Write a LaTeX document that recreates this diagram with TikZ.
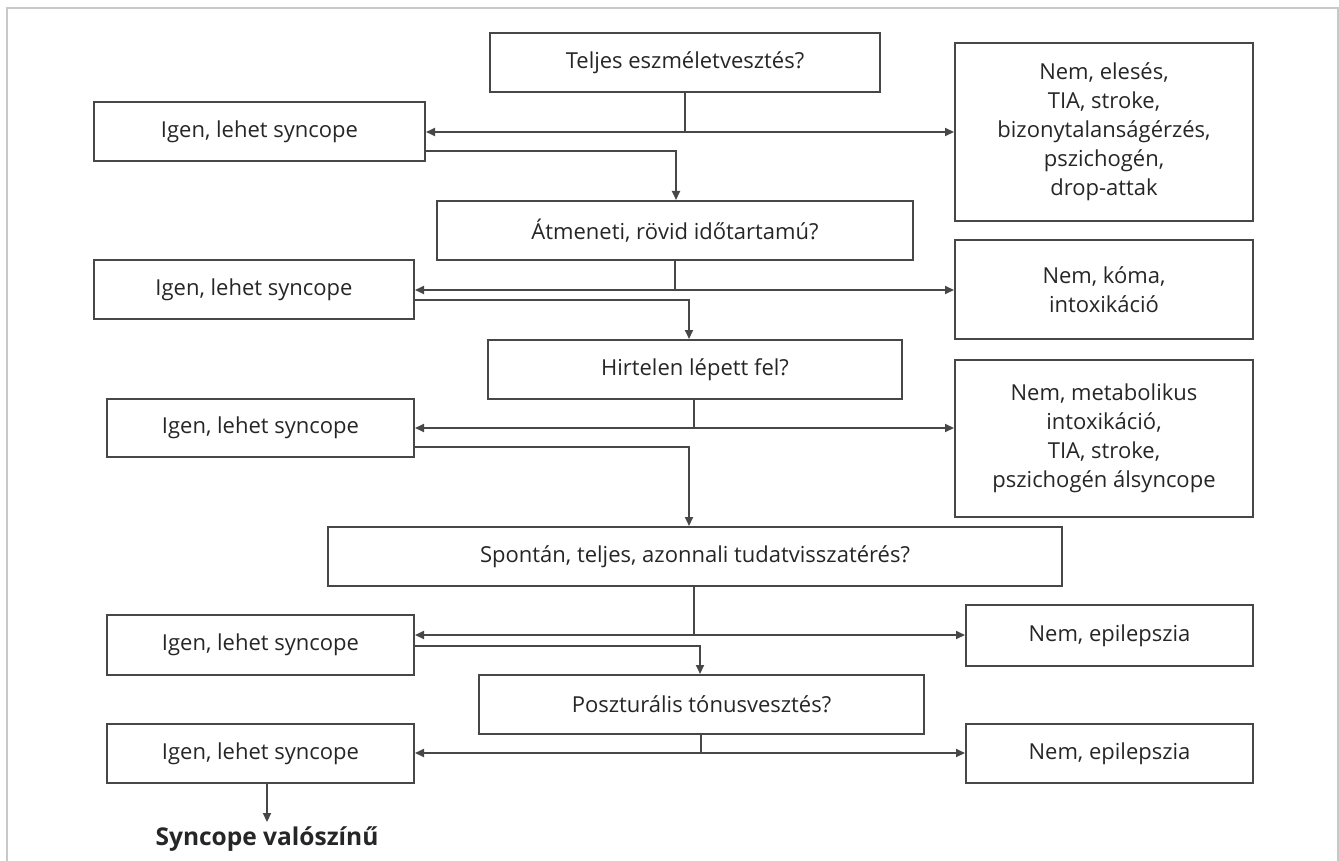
\documentclass[tikz,border=0pt]{standalone}
\usepackage{fontspec}
\setmainfont{Open Sans}[BoldFont={Open Sans Bold}]
\usetikzlibrary{arrows.meta}
\definecolor{linec}{HTML}{474747}
\definecolor{textc}{HTML}{262626}
\definecolor{framec}{HTML}{C8C8C8}
\begin{document}
\begin{tikzpicture}[x=1pt,y=-1pt,
  box/.style={draw=linec, line width=2pt, text=textc, align=center, inner sep=0pt,
              font=\fontsize{22}{29}\selectfont},
  arr/.style={draw=linec, line width=2pt, -{Triangle[length=9pt,width=8pt]}},
  ln/.style={draw=linec, line width=2pt}]
\useasboundingbox (0,0) rectangle (1339,861);
\draw[framec, line width=1.2pt] (7,861) -- (7,8) -- (1338,8) -- (1338,861);

% question boxes
\node[box, minimum width=390pt, minimum height=59pt] (q1) at (685,62.5) {Teljes eszméletvesztés?};
\node[box, minimum width=476pt, minimum height=59pt] (q2) at (675,230.5) {Átmeneti, rövid időtartamú?};
\node[box, minimum width=414pt, minimum height=59pt] (q3) at (695,369.5) {Hirtelen lépett fel?};
\node[box, minimum width=734pt, minimum height=59pt] (q4) at (695,556.5) {Spontán, teljes, azonnali tudatvisszatérés?};
\node[box, minimum width=445pt, minimum height=59pt] (q5) at (701.5,704.5) {Poszturális tónusvesztés?};

% left boxes
\node[box, minimum width=331pt, minimum height=59pt] (L1) at (259.5,131.5) {Igen, lehet syncope};
\node[box, minimum width=320pt, minimum height=59pt] (L2) at (254,289.5) {Igen, lehet syncope};
\node[box, minimum width=307pt, minimum height=58pt] (L3) at (260.5,428) {Igen, lehet syncope};
\node[box, minimum width=307pt, minimum height=60pt] (L4) at (260.5,645) {Igen, lehet syncope};
\node[box, minimum width=307pt, minimum height=59pt] (L5) at (260.5,753.5) {Igen, lehet syncope};

% right boxes
\node[box, minimum width=298pt, minimum height=178pt] (R1) at (1104,132) {Nem, elesés,\\TIA, stroke,\\bizonytalanságérzés,\\pszichogén,\\drop-attak};
\node[box, minimum width=298pt, minimum height=99pt] (R2) at (1104,289.5) {Nem, kóma,\\intoxikáció};
\node[box, minimum width=298pt, minimum height=157pt] (R3) at (1104,438.5) {Nem, metabolikus\\intoxikáció,\\TIA, stroke,\\pszichogén álsyncope};
\node[box, minimum width=287pt, minimum height=61pt] (R4) at (1109.5,635.5) {Nem, epilepszia};
\node[box, minimum width=287pt, minimum height=59pt] (R5) at (1109.5,753.5) {Nem, epilepszia};

\node[anchor=base, text=textc, font=\bfseries\fontsize{24.5}{28}\selectfont, inner sep=4pt] (fin) at (267,845) {Syncope valószínű};

% junctions
\coordinate (j1) at (685,132);
\coordinate (j2) at (675,290);
\coordinate (j3) at (694,428);
\coordinate (j4) at (694,635);
\coordinate (j5) at (701,753);
% exits from left boxes
\coordinate (e1) at (676,151);
\coordinate (e2) at (689,300);
\coordinate (e3) at (689,447);
\coordinate (e4) at (700,646);

\draw[ln] (q1.south -| j1) -- (j1);
\draw[arr] (j1) -- (j1 -| L1.east);
\draw[arr] (j1) -- (j1 -| R1.west);
\draw[arr] (L1.east |- e1) -- (e1) -- (e1 |- q2.north);

\draw[ln] (q2.south -| j2) -- (j2);
\draw[arr] (j2) -- (j2 -| L2.east);
\draw[arr] (j2) -- (j2 -| R2.west);
\draw[arr] (L2.east |- e2) -- (e2) -- (e2 |- q3.north);

\draw[ln] (q3.south -| j3) -- (j3);
\draw[arr] (j3) -- (j3 -| L3.east);
\draw[arr] (j3) -- (j3 -| R3.west);
\draw[arr] (L3.east |- e3) -- (e3) -- (e3 |- q4.north);

\draw[ln] (q4.south -| j4) -- (j4);
\draw[arr] (j4) -- (j4 -| L4.east);
\draw[arr] (j4) -- (j4 -| R4.west);
\draw[arr] (L4.east |- e4) -- (e4) -- (e4 |- q5.north);

\draw[ln] (q5.south -| j5) -- (j5);
\draw[arr] (j5) -- (j5 -| L5.east);
\draw[arr] (j5) -- (j5 -| R5.west);

\draw[arr] (L5.south -| fin.north) -- (fin.north);
\end{tikzpicture}
\end{document}
